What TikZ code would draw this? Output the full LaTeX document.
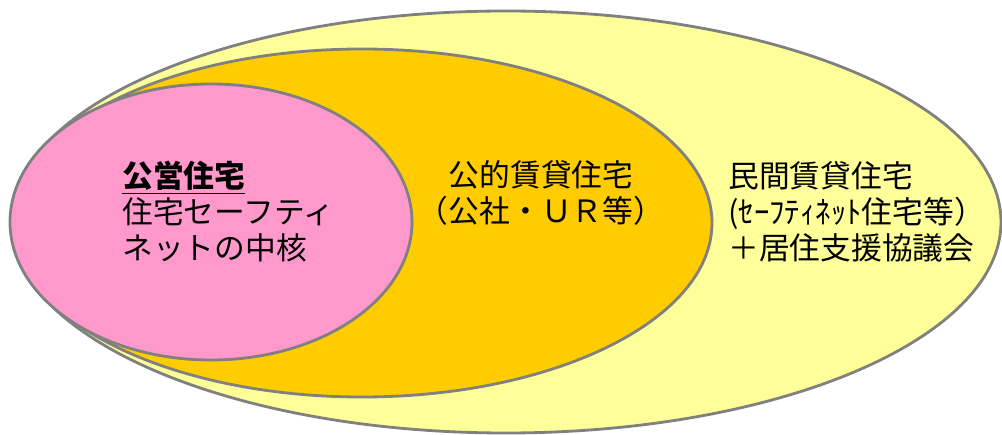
\documentclass[tikz,border=0pt]{standalone}
\usepackage{fontspec}
\setmainfont{Noto Sans CJK JP}
\usetikzlibrary{shapes.geometric}
\definecolor{privyellow}{HTML}{FFFF99}
\definecolor{puborange}{HTML}{FFCC00}
\definecolor{munipink}{HTML}{FF99CC}
\definecolor{rimgray}{HTML}{808080}

\begin{document}
\begin{tikzpicture}[
                zone/.style={ellipse, draw=rimgray, line width=1.6pt, inner sep=0pt},
                lbl/.style={font=\fontsize{17.5}{20.5}\selectfont, inner sep=0pt, text=black},
            ]
                \useasboundingbox (0,0) rectangle (20.04,-8.7);

                % Nested housing zones
                \node[zone, fill=privyellow, minimum width=19.8cm, minimum height=8.44cm] (private) at (10.12,-4.44) {};
                \node[zone, fill=puborange, minimum width=14.0cm, minimum height=6.96cm] (public) at (7.24,-4.46) {};
                \node[zone, fill=munipink, minimum width=8.04cm, minimum height=5.52cm] (municipal) at (4.22,-4.44) {};

                % Labels
                \node[lbl, anchor=west, align=left] (municipaltext) at (2.44,-4.24)
                    {\underline{\textbf{公営住宅}}\\住宅セーフティ\\ネットの中核};
                \node[lbl, align=center] (publictext) at (10.82,-3.86)
                    {公的賃貸住宅\\（公社・ＵＲ等）};
                \node[lbl, anchor=west, align=left] (privatetext) at (14.56,-4.24)
                    {民間賃貸住宅\\(ｾｰﾌﾃｨﾈｯﾄ住宅等）\\＋居住支援協議会};
            \end{tikzpicture}
\end{document}
